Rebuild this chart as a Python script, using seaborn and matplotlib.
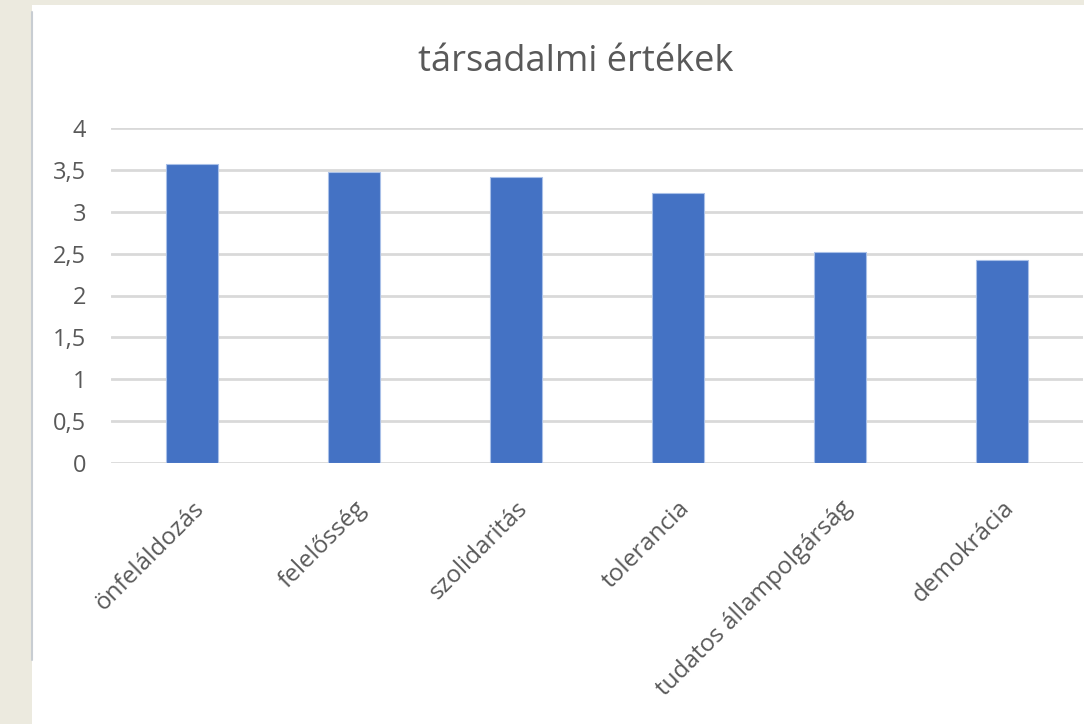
import numpy as np
import pandas as pd
import matplotlib
matplotlib.use("Agg")
import matplotlib.pyplot as plt
import seaborn as sns
from matplotlib.patches import Rectangle

categories = ["önfeláldozás", "felelősség", "szolidaritás", "tolerancia",
              "tudatos állampolgárság", "demokrácia"]
values = [3.57, 3.47, 3.41, 3.22, 2.52, 2.42]
y_ticks = [0, 0.5, 1, 1.5, 2, 2.5, 3, 3.5, 4]
y_tick_labels = ["0", "0,5", "1", "1,5", "2", "2,5", "3", "3,5", "4"]

sns.set_style("white")
plt.rcParams["font.family"] = ["Open Sans", "DejaVu Sans"]

df = pd.DataFrame({"kategoria": categories, "ertek": values})

fig = plt.figure(figsize=(10.84, 7.24), dpi=100)
fig.patch.set_facecolor("#eceadf")
# white chart panel behind the axes
panel = Rectangle((32 / 1084, 0), 1, 1 - 5 / 724, transform=fig.transFigure,
                  facecolor="white", edgecolor="none", zorder=-5)
fig.add_artist(panel)
edge = plt.Line2D([31.5 / 1084, 31.5 / 1084], [1 - 660 / 724, 1 - 12 / 724],
                  transform=fig.transFigure, color="#c8cdd2", lw=1.5, zorder=-4)
fig.add_artist(edge)

ax = fig.add_axes([111 / 1084, 1 - 463 / 724, 972 / 1084, (463 - 128) / 724])
ax.set_facecolor("none")

sns.barplot(data=df, x="kategoria", y="ertek", color="#4472c4", width=0.32,
            edgecolor="#a9c0e8", linewidth=0.8, ax=ax, zorder=3, saturation=1)

ax.set_ylim(0, 4)
ax.set_xlim(-0.5, 5.5)
ax.set_yticks(y_ticks)
ax.set_yticklabels(y_tick_labels, color="#595959", fontsize=17)
ax.yaxis.grid(True, color="#d9d9d9", lw=2, zorder=0)
ax.set_axisbelow(True)
for s in ax.spines.values():
    s.set_visible(False)
ax.tick_params(axis="both", length=0)
ax.tick_params(axis="y", pad=18)
ax.set_xticks(range(len(categories)))
ax.set_xticklabels(categories, rotation=45, ha="right", rotation_mode="anchor",
                   color="#595959", fontsize=17.5)
ax.tick_params(axis="x", pad=24)
ax.set_xlabel("")
ax.set_ylabel("")

fig.text(576 / 1084, 1 - 62 / 724, "társadalmi értékek", ha="center", va="center",
         fontsize=26, color="#595959")

fig.savefig("out.png", dpi=100, facecolor=fig.get_facecolor())
